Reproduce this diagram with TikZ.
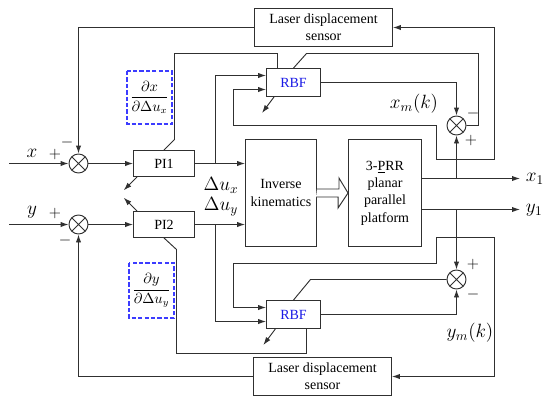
\documentclass[tikz,border=0pt]{standalone}
\usepackage{fontspec}
\setmainfont{Liberation Serif}
\usepackage{amsmath}
\usetikzlibrary{arrows.meta,calc,positioning}
\definecolor{LineGray}{HTML}{303030}
\definecolor{RBFBlue}{HTML}{1A1AE6}
\definecolor{DashBlue}{RGB}{60,60,255}

\tikzset{
    block/.style={draw=LineGray, line width=0.7pt, fill=white, align=center, inner sep=1pt},
    sumnode/.style={circle, draw=LineGray, line width=0.7pt, minimum size=14.25pt, inner sep=0pt,
        path picture={\draw[LineGray, line width=0.7pt]
            (path picture bounding box.north west) -- (path picture bounding box.south east)
            (path picture bounding box.north east) -- (path picture bounding box.south west);}},
    jacbox/.style={minimum width=33pt, inner sep=0pt},
    jacline/.style={color=DashBlue, dash pattern=on 3.2pt off 1.6pt, line width=0.9pt},
    sig/.style={font=\fontsize{14}{16}\selectfont},
    sgn/.style={font=\fontsize{12}{14}\selectfont, inner sep=0pt}
}

\begin{document}
\begin{tikzpicture}[x=0.75pt, y=-0.75pt, >={Latex[length=6pt,width=4pt]},
    line width=0.7pt, color=LineGray, every node/.append style={text=black},
    font=\fontsize{10.5}{13}\selectfont]
    \useasboundingbox (0,0) rectangle (550,404);

    % Sensors
    \node[block, minimum width=103.5pt, minimum height=28.5pt] (sensT) at (323.5,27.5) {Laser displacement\\sensor};
    \node[block, minimum width=103.5pt, minimum height=28.5pt] (sensB) at (322.5,376.5) {Laser displacement\\sensor};

    % Controllers
    \node[block, minimum width=45.75pt, minimum height=19.5pt] (pi1) at (164,163.5) {PI1};
    \node[block, minimum width=45.75pt, minimum height=19.5pt] (pi2) at (164,224.5) {PI2};

    % Neural networks
    \node[block, minimum width=40.5pt, minimum height=21pt, text=RBFBlue] (rbfT) at (293.5,82.5) {RBF};
    \node[block, minimum width=40.5pt, minimum height=21pt, text=RBFBlue] (rbfB) at (293.5,314.5) {RBF};

    % Plant
    \node[block, minimum width=53.25pt, minimum height=80.25pt] (ik) at (281,193) {Inverse\\kinematics};
    \node[block, minimum width=54.75pt, minimum height=80.25pt] (plat) at (385,193) {3-\underline{P}RR\\planar\\parallel\\platform};

    % Jacobian boxes
    \node[jacbox, minimum height=39pt] (jacX) at (149.5,97.5) {$\dfrac{\partial x}{\partial \Delta u_x}$};
    \node[jacbox, minimum height=40.5pt] (jacY) at (151.5,290.5) {$\dfrac{\partial y}{\partial \Delta u_y}$};
    \draw[jacline] (jacX.north west) rectangle (jacX.south east);
    \draw[jacline] (jacY.north west) rectangle (jacY.south east);

    % Summing junctions
    \node[sumnode] (s1) at (78.5,163.5) {};
    \node[sumnode] (s2) at (78.5,224.5) {};
    \node[sumnode] (s3) at (456.5,125.5) {};
    \node[sumnode] (s4) at (456.5,279.5) {};

    % Bend points
    \coordinate (xin) at (9,163.5);
    \coordinate (yin) at (9,224.5);
    \coordinate (bx) at (215.5,163.5);
    \coordinate (by) at (215.5,224.5);
    \coordinate (x1end) at (520,178.5);
    \coordinate (y1end) at (520,209.5);
    \coordinate (lpT) at (456.5,159.5);
    \coordinate (lpB) at (456.5,237.5);
    \coordinate (cT1) at (494.5,27.5);
    \coordinate (cT2) at (436.5,125.5);
    \coordinate (cT3) at (233.5,89.5);
    \coordinate (cB1) at (494.5,376.5);
    \coordinate (cB2) at (436.5,263.5);
    \coordinate (cB3) at (233.5,307.5);
    \coordinate (eT1) at (478.5,53.5);
    \coordinate (eT2) at (306.5,53.5);
    \coordinate (eB1) at (310.5,279.5);
    \coordinate (pT1) at (174.5,139.5);
    \coordinate (pT2) at (277.5,53.5);
    \coordinate (pB1) at (176.5,249.5);
    \coordinate (pB2) at (306.5,353.5);

    % x channel
    \draw[->] (xin) -- (s1);
    \draw[->] (s1) -- (pi1);
    \draw[->] (pi1.east) -- (pi1.east -| ik.west);
    \draw[->] (bx) |- ([yshift=5.25pt]rbfT.west);
    \draw[->] (sensT.west) -| (s1.north);
    \draw[->] (plat.east |- x1end) -- (x1end);
    \draw[->] (s3 |- x1end) -- (s3.south);
    \draw[->] (lpT) -| (cT1) -- (sensT.east);
    \draw[->] (lpT) -| (cT2) -| (cT3) -- (cT3 -| rbfT.west);
    \draw[->] (rbfT.east) -| (s3.north);
    \draw (s3.east) -| (eT1) -- (eT2) -- (rbfT.north);
    \draw (pi1.north) -- (pT1) |- (pT2) -- (pT2 |- rbfT.north);

    % y channel
    \draw[->] (yin) -- (s2);
    \draw[->] (s2) -- (pi2);
    \draw[->] (pi2.east) -- (pi2.east -| ik.west);
    \draw[->] (by) |- ([yshift=-5.25pt]rbfB.west);
    \draw[->] (sensB.west) -| (s2.south);
    \draw[->] (plat.east |- y1end) -- (y1end);
    \draw[->] (s4 |- y1end) -- (s4.north);
    \draw[->] (lpB) -| (cB1) -- (sensB.east);
    \draw[->] (lpB) -| (cB2) -| (cB3) -- (cB3 -| rbfB.west);
    \draw[->] (rbfB.east) -| (s4.south);
    \draw (s4.west) -- (eB1) -- (rbfB.north);
    \draw (pi2.south) -- (pB1) |- (pB2) -- (pB2 |- rbfB.south);

    % Adaptation arrows
    \draw[->] ([xshift=3pt]pi1.south west) -- ++(-10pt,-10pt);
    \draw[->] ([xshift=3pt]pi2.north west) -- ++(-10pt,10pt);
    \draw[->] ([xshift=6pt]rbfT.south west) -- ++(-9pt,-12pt);
    \draw[->] ([xshift=7pt]rbfB.south west) -- ++(-9pt,-12pt);

    % Hollow arrow
    \draw[fill=white] (ik.east) ++(0,-4) -- ++(22,0) -- ++(0,-11) -- (plat.west)
        -- ++(-10,15) -- ++(0,-11) -- ++(-22,0);

    % Signal labels
    \node[sig] (lx) at (32,153) {$x$};
    \node[sig] (ly) at (32,212) {$y$};
    \node[sig] (ldx) at (221,185) {$\Delta u_x$};
    \node[sig] (ldy) at (221,207) {$\Delta u_y$};
    \node[sig] (lxm) at (414,104) {$x_m(k)$};
    \node[sig] (lym) at (470,333) {$y_m(k)$};
    \node[sig, right] (lx1) at (521,179) {$x_1$};
    \node[sig, right] (ly1) at (521,210) {$y_1$};

    % Signs
    \node[sgn] at (55,154) {$+$};
    \node[sgn] at (67,142) {$-$};
    \node[sgn] at (55,213) {$+$};
    \node[sgn] at (65,240) {$-$};
    \node[sgn] at (473,113) {$-$};
    \node[sgn] at (471,140) {$+$};
    \node[sgn] at (473,264) {$+$};
    \node[sgn] at (473,294) {$-$};

\end{tikzpicture}
\end{document}
